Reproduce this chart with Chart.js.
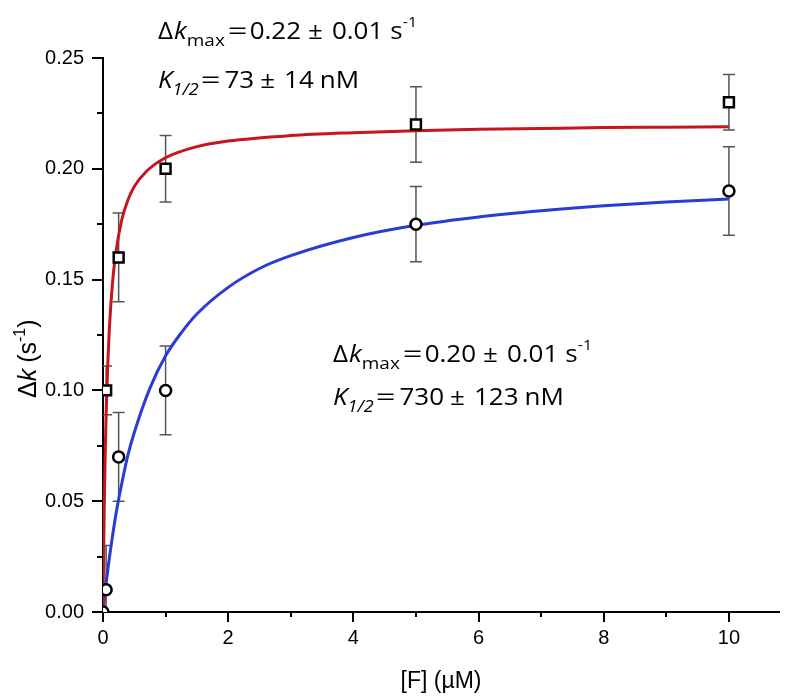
<!DOCTYPE html>
<html>
<head>
<meta charset="utf-8">
<script src="https://cdn.jsdelivr.net/npm/chart.js@4.4.1/dist/chart.umd.min.js"></script>
<style>
  body { margin: 0; background: #fff; }
  #wrap { width: 796px; height: 699px; }
</style>
</head>
<body>
<div id="wrap"><canvas id="plot" width="796" height="699"></canvas></div>
<script>
//Measured points (squares / circles) with symmetric error bars
var squareX = [0.05, 0.25, 1, 5, 10];
var squareY = [0.10, 0.16, 0.20, 0.22, 0.23];
var squareErr = [0.011, 0.02, 0.015, 0.017, 0.0125];

var circleX = [0, 0.05, 0.25, 1, 5, 10];
var circleY = [0, 0.01, 0.07, 0.10, 0.175, 0.19];
var circleErr = [0, 0.02, 0.02, 0.02, 0.017, 0.02];

//Fit curves
var redFitX = [0, 0.005, 0.01, 0.02, 0.035, 0.05, 0.075, 0.1, 0.15, 0.2, 0.3, 0.4, 0.5, 0.7, 1, 1.5, 2, 3, 4, 5, 6, 7, 8, 9, 10];
var redFitY = [0, 0.014, 0.026, 0.047, 0.071, 0.089, 0.111, 0.127, 0.148, 0.161, 0.177, 0.186, 0.192, 0.199, 0.205, 0.210, 0.2125, 0.2150, 0.2163, 0.2172, 0.2178, 0.2182, 0.2186, 0.2188, 0.2190];

var blueFitX = [0, 0.02, 0.05, 0.1, 0.2, 0.3, 0.4, 0.5, 0.75, 1, 1.25, 1.5, 2, 2.5, 3, 4, 5, 6, 7, 8, 9, 10];
var blueFitY = [0, 0.0053, 0.0128, 0.024, 0.043, 0.058, 0.071, 0.081, 0.101, 0.1156, 0.126, 0.1345, 0.1465, 0.155, 0.1608, 0.169, 0.1745, 0.1783, 0.1811, 0.1833, 0.185, 0.1864];

var xTicks = [0, 2, 4, 6, 8, 10];
var yTicks = [0, 0.05, 0.10, 0.15, 0.20, 0.25];

//fit results text
var fitRed = { kmax: '0.22', kerr: '0.01', half: '73', herr: '14' };
var fitBlue = { kmax: '0.20', kerr: '0.01', half: '730', herr: '123' };

function pts(xs, ys) {
	var out = [];
	for (var i = 0; i < xs.length; i++) out.push({x: xs[i], y: ys[i]});
	return out;
}

//draw a run of text pieces: [text, font, dy, gapAfter, xScale]
function richText(ctx, x, y, parts, sy) {
	sy = sy || 1;
	for (var i = 0; i < parts.length; i++) {
		var p = parts[i];
		var sx = p[4] || 1;
		ctx.font = p[1];
		ctx.save();
		ctx.translate(x, y + (p[2] || 0));
		ctx.scale(sx, sy);
		ctx.fillText(p[0], 0, 0);
		ctx.restore();
		x += ctx.measureText(p[0]).width * sx + (p[3] || 0);
	}
}

var F = '26px "Open Sans", sans-serif';
var FI = 'italic 26px "Open Sans", sans-serif';
var SUB = '19px "Open Sans", sans-serif';
var SUBI = 'italic 18px "Open Sans", sans-serif';
var SUP = '16px "Open Sans", sans-serif';

function fitText(ctx, x, y1, y2, r) {
	richText(ctx, x, y1, [
		['\u0394', F, 0, 1], ['k', FI], ['max', SUB, 7, 3], ['=', F, 0, 2, 1.33],
		[r.kmax, F, 0, 7], ['\u00b1', F, 0, 9], [r.kerr, F, 0, 7], ['s', F], ['-1', SUP, -12]
	], 0.9);
	richText(ctx, x, y2, [
		['K', FI], ['1/2', SUBI, 7, 2], ['=', F, 0, 4, 1.33],
		[r.half, F, 0, 6], ['\u00b1', F, 0, 9], [r.herr, F, 0, 6], ['nM', F]
	], 0.9);
}

var extras = {
	id: 'extras',
	beforeDatasetsDraw: function(chart) {
		var ctx = chart.ctx, xs = chart.scales.x, ys = chart.scales.y, a = chart.chartArea;
		ctx.save();
		ctx.beginPath();
		ctx.rect(a.left, a.top - 20, a.right - a.left, a.bottom - a.top + 20);
		ctx.clip();
		ctx.strokeStyle = '#555';
		ctx.lineWidth = 1.5;
		function bars(X, Y, E) {
			for (var i = 0; i < X.length; i++) {
				if (!E[i]) continue;
				var px = xs.getPixelForValue(X[i]);
				var top = ys.getPixelForValue(Y[i] + E[i]);
				var bot = ys.getPixelForValue(Y[i] - E[i]);
				ctx.beginPath();
				ctx.moveTo(px, top); ctx.lineTo(px, bot);
				ctx.moveTo(px - 6, top); ctx.lineTo(px + 6, top);
				ctx.moveTo(px - 6, bot); ctx.lineTo(px + 6, bot);
				ctx.stroke();
			}
		}
		bars(squareX, squareY, squareErr);
		bars(circleX, circleY, circleErr);
		ctx.restore();
	},
	afterDraw: function(chart) {
		var ctx = chart.ctx, xs = chart.scales.x, ys = chart.scales.y, a = chart.chartArea;
		ctx.save();
		ctx.strokeStyle = '#000';
		ctx.lineWidth = 2;
		//outward ticks, minor ones between the labelled ones
		for (var i = 0; i <= 10; i++) {
			var px = Math.round(xs.getPixelForValue(i));
			var len = i % 2 === 0 ? 10 : 5;
			ctx.beginPath(); ctx.moveTo(px, a.bottom); ctx.lineTo(px, a.bottom + len); ctx.stroke();
		}
		for (var j = 0; j <= 10; j++) {
			var py = Math.round(ys.getPixelForValue(j * 0.025));
			var l2 = j % 2 === 0 ? 11 : 6;
			ctx.beginPath(); ctx.moveTo(a.left, py); ctx.lineTo(a.left - l2, py); ctx.stroke();
		}

		ctx.fillStyle = '#000';
		ctx.textBaseline = 'alphabetic';
		//x title
		ctx.font = '23px "Liberation Sans", Arial, sans-serif';
		ctx.textAlign = 'center';
		ctx.fillText('[F] (\u00b5M)', (a.left + a.right) / 2, 688);
		ctx.textAlign = 'left';

		//y title, rotated
		ctx.save();
		ctx.translate(36, 398);
		ctx.rotate(-Math.PI / 2);
		var yf = '25px "Liberation Sans", Arial, sans-serif';
		richText(ctx, 0, 0, [
			['\u0394', yf], ['k', 'italic ' + yf, 0, 6], ['(s', yf],
			['-1', '16px "Liberation Sans", Arial, sans-serif', -11], [')', yf]
		]);
		ctx.restore();

		fitText(ctx, 158, 39, 88, fitRed);
		fitText(ctx, 333, 362, 405, fitBlue);
		ctx.restore();
	}
};

var tickFont = { family: '"Liberation Sans", Arial, sans-serif', size: 20 };

var chart = new Chart(document.getElementById('plot'), {
	type: 'scatter',
	data: {
		datasets: [{
			label: 'squares',
			data: pts(squareX, squareY),
			pointStyle: 'rect',
			pointRadius: 7,
			borderColor: '#000',
			backgroundColor: '#fff',
			borderWidth: 2.5
		}, {
			label: 'circles',
			data: pts(circleX, circleY),
			pointStyle: 'circle',
			pointRadius: 5.5,
			borderColor: '#000',
			backgroundColor: '#fff',
			borderWidth: 2.5
		}, {
			label: 'fit red',
			data: pts(redFitX, redFitY),
			showLine: true,
			pointRadius: 0,
			borderColor: '#c4161c',
			borderWidth: 3,
			cubicInterpolationMode: 'monotone'
		}, {
			label: 'fit blue',
			data: pts(blueFitX, blueFitY),
			showLine: true,
			pointRadius: 0,
			borderColor: '#2b3bd6',
			borderWidth: 3,
			cubicInterpolationMode: 'monotone'
		}]
	},
	options: {
		responsive: false,
		animation: false,
		events: [],
		layout: { padding: { left: 0, top: 58, right: 17, bottom: 0 } },
		scales: {
			x: {
				type: 'linear',
				min: 0,
				max: 10.8,
				afterFit: function(s) { s.height = 87; },
				afterBuildTicks: function(s) { s.ticks = xTicks.map(function(v) { return {value: v}; }); },
				grid: { display: false, drawTicks: false },
				border: { display: true, color: '#000', width: 2 },
				ticks: { color: '#000', font: tickFont, padding: 14, maxRotation: 0 }
			},
			y: {
				type: 'linear',
				min: 0,
				max: 0.25,
				afterFit: function(s) { s.width = 103; },
				afterBuildTicks: function(s) { s.ticks = yTicks.map(function(v) { return {value: v}; }); },
				grid: { display: false, drawTicks: false },
				border: { display: true, color: '#000', width: 2 },
				ticks: {
					color: '#000', font: tickFont, padding: 19,
					callback: function(v) { return Number(v).toFixed(2); }
				}
			}
		},
		plugins: {
			legend: { display: false },
			tooltip: { enabled: false }
		}
	},
	plugins: [extras]
});
</script>
</body>
</html>
